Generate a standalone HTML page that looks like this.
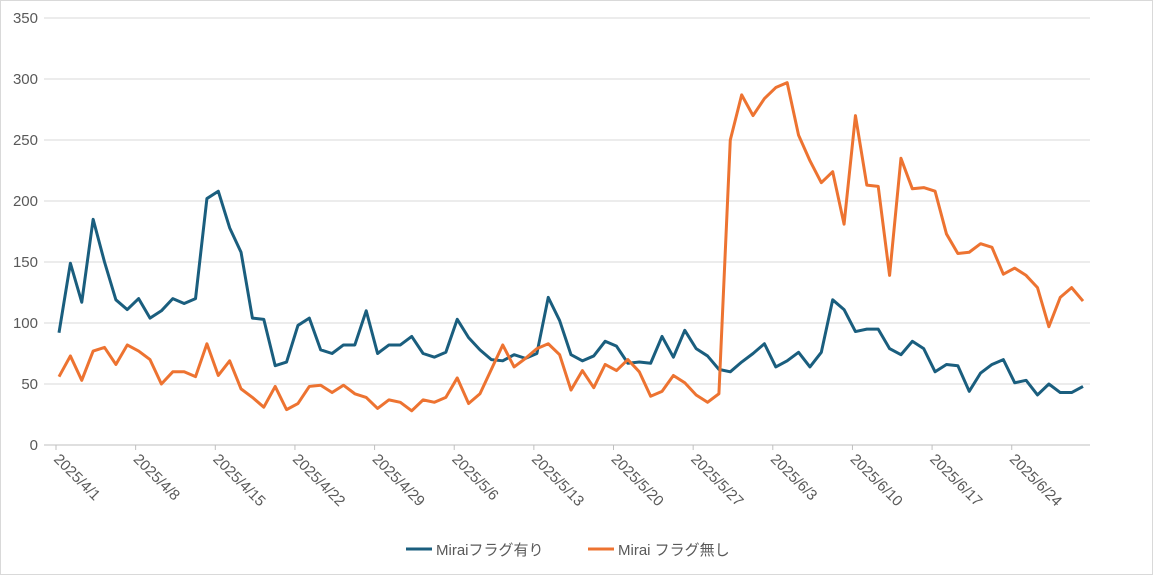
<!DOCTYPE html>
<html><head><meta charset="utf-8">
<style>
body{margin:0;background:#fff;}
svg{display:block;font-family:"Liberation Sans","Noto Sans CJK JP",sans-serif;}
</style></head>
<body>
<svg id="chart" width="1153" height="575" viewBox="0 0 1153 575">
<rect x="0.5" y="0.5" width="1152" height="574" fill="#fff" stroke="#d9d9d9"/>
<g id="grid"></g><g id="yt"></g><g id="xt"></g><g id="lines"></g>
<g>
<line x1="406" y1="549" x2="432" y2="549" stroke="#1a5e7e" stroke-width="3"/>
<text x="436" y="555" font-size="15" fill="#595959">Miraiフラグ有り</text>
<line x1="588" y1="549" x2="614" y2="549" stroke="#ed7331" stroke-width="3"/>
<text x="618" y="555" font-size="15" fill="#595959">Mirai フラグ無し</text>
</g>
</svg>
<script>
const yTicks=[0,50,100,150,200,250,300,350];
const xTickLabels=["2025/4/1","2025/4/8","2025/4/15","2025/4/22","2025/4/29","2025/5/6","2025/5/13","2025/5/20","2025/5/27","2025/6/3","2025/6/10","2025/6/17","2025/6/24"];
const withFlag=[92,149,117,185,150,119,111,120,104,110,120,116,120,202,208,178,158,104,103,65,68,98,104,78,75,82,82,110,75,82,82,89,75,72,76,103,88,78,70,69,74,71,75,121,102,74,69,73,85,81,67,68,67,89,72,94,79,73,62,60,68,75,83,64,69,76,64,76,119,111,93,95,95,79,74,85,79,60,66,65,44,59,66,70,51,53,41,50,43,43,48];
const withoutFlag=[56,73,53,77,80,66,82,77,70,50,60,60,56,83,57,69,46,39,31,48,29,34,48,49,43,49,42,39,30,37,35,28,37,35,39,55,34,42,62,82,64,71,79,83,74,45,61,47,66,61,70,60,40,44,57,51,41,35,42,250,287,270,284,293,297,254,233,215,224,181,270,213,212,139,235,210,211,208,173,157,158,165,162,140,145,139,129,97,121,129,118];
const NS="http://www.w3.org/2000/svg";
const x0=59,dx=(1083-59)/90;
const xs=i=>x0+i*dx;
const ys=v=>445-v*(427/350);
function mk(tag,attrs,parent){const e=document.createElementNS(NS,tag);for(const k in attrs)e.setAttribute(k,attrs[k]);parent.appendChild(e);return e;}
const grid=document.getElementById('grid'),yt=document.getElementById('yt'),xt=document.getElementById('xt'),lines=document.getElementById('lines');
yTicks.forEach(t=>{
 const l=mk('line',{x1:44,x2:1090,y1:ys(t),y2:ys(t),stroke:t===0?'#bfbfbf':'#d9d9d9','stroke-width':1},grid);
 
 
 const tx=mk('text',{x:38,y:ys(t)+5,'text-anchor':'end','font-size':15,fill:'#595959'},yt);
 tx.textContent=t;
 
 
});
xTickLabels.forEach((s,k)=>{
 const x=xs(k*7)-3;
 const tk=mk('line',{x1:x,x2:x,y1:445,y2:450,stroke:'#bfbfbf'},xt);
 
 
 const tx=mk('text',{x:0,y:0,'font-size':15,fill:'#595959',transform:`translate(${x-3},${460}) rotate(45)`},xt);
 tx.textContent=s;
 
 
});
function series(arr,color,name){
 const p=mk('polyline',{points:arr.map((v,i)=>xs(i)+','+ys(v)).join(' '),fill:'none',stroke:color,'stroke-width':3,'stroke-linejoin':'round'},lines);
 
 
}
series(withFlag,'#1a5e7e','series-with-flag');
series(withoutFlag,'#ed7331','series-without-flag');
</script>
</body></html>
